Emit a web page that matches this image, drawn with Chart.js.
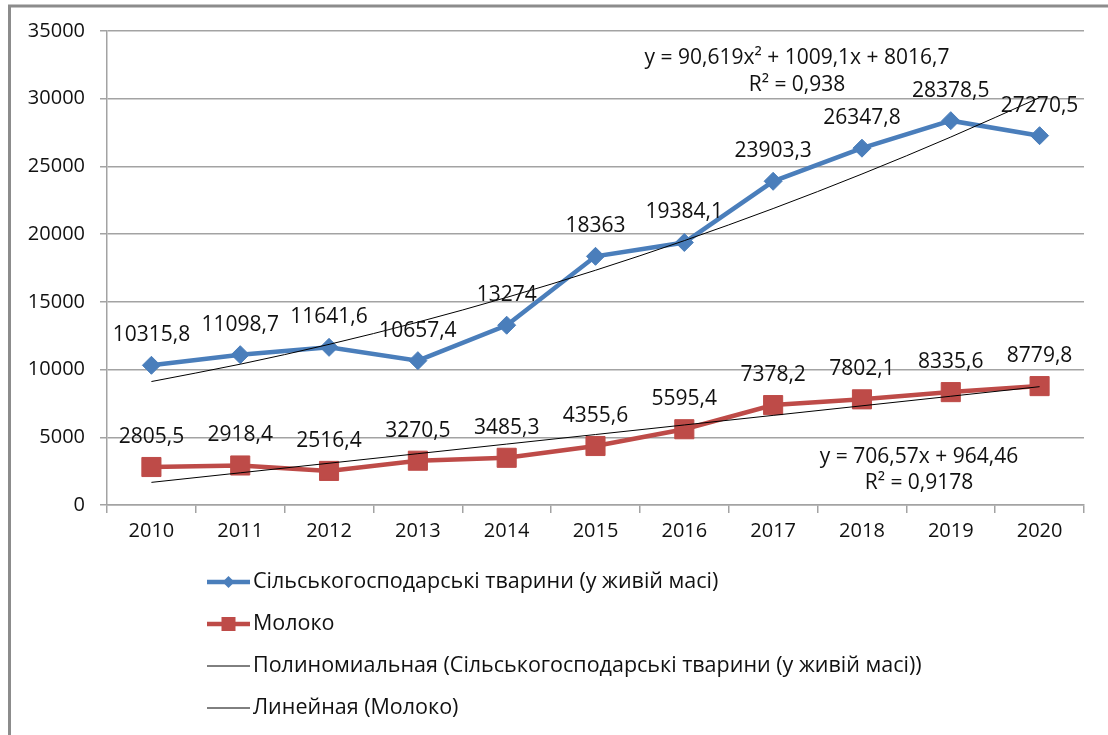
<!DOCTYPE html>
<html>
<head>
<meta charset="utf-8">
<script src="https://cdn.jsdelivr.net/npm/chart.js@4.4.0/dist/chart.umd.min.js"></script>
<style>
  html, body { margin: 0; padding: 0; background: #fff; }
  #wrap { width: 1108px; height: 735px; position: relative; }
</style>
</head>
<body>
<div id="wrap"><canvas id="chart" width="1108" height="735"></canvas></div>
<script>
// Values
const years = ['2010', '2011', '2012', '2013', '2014', '2015', '2016', '2017', '2018', '2019', '2020'];
const livestock = [10315.8, 11098.7, 11641.6, 10657.4, 13274, 18363, 19384.1, 23903.3, 26347.8, 28378.5, 27270.5];
const milk = [2805.5, 2918.4, 2516.4, 3270.5, 3485.3, 4355.6, 5595.4, 7378.2, 7802.1, 8335.6, 8779.8];
// Trend lines as printed on the chart (y = 90,619x² + 1009,1x + 8016,7 and y = 706,57x + 964,46)
const livestockTrend = [9116.4, 10397.4, 11859.6, 13503.0, 15327.7, 17333.6, 19520.7, 21889.1, 24438.7, 27169.6, 30081.7];
const milkTrend = [1671.0, 2377.6, 3084.2, 3790.7, 4497.3, 5203.9, 5910.4, 6617.0, 7323.6, 8030.2, 8736.7];
const yTicks = [0, 5000, 10000, 15000, 20000, 25000, 30000, 35000];

const labels = {
    livestock: 'Сільськогосподарські тварини (у живій масі)',
    milk: 'Молоко',
    poly: 'Полиномиальная (Сільськогосподарські тварини (у живій масі))',
    linear: 'Линейная (Молоко)'
};
const equations = {
    poly: ['y = 90,619x² + 1009,1x + 8016,7', 'R² = 0,938'],
    linear: ['y = 706,57x + 964,46', 'R² = 0,9178']
};

const COLORS = {
    blue: '#4a7ebb',
    red: '#be4b48',
    grid: '#a3a3a3',
    frame: '#8c8c8c',
    text: '#111'
};
const FONT = '"Open Sans", sans-serif';

Chart.defaults.font.family = FONT;
Chart.defaults.font.size = 20;
Chart.defaults.color = COLORS.text;

// white background plus the outer frame of the chart object
const frame = {
    id: 'frame',
    beforeDraw(chart) {
        const ctx = chart.ctx;
        ctx.save();
        ctx.fillStyle = '#fff';
        ctx.fillRect(0, 0, chart.width, chart.height);
        ctx.strokeStyle = COLORS.frame;
        ctx.lineWidth = 3;
        ctx.strokeRect(9.5, 6, chart.width + 50, chart.height + 50);
        ctx.restore();
    }
};

// value labels above the points + trend equations
const valueLabels = {
    id: 'valueLabels',
    afterDatasetsDraw(chart) {
        const ctx = chart.ctx;
        const area = chart.chartArea;
        ctx.save();
        ctx.font = '21px ' + FONT;
        ctx.fillStyle = COLORS.text;
        ctx.textAlign = 'center';
        ctx.textBaseline = 'middle';
        [0, 1].forEach(i => {
            const meta = chart.getDatasetMeta(i);
            meta.data.forEach((pt, j) => {
                const v = chart.data.datasets[i].data[j];
                ctx.fillText(String(v).replace('.', ','), pt.x, pt.y - 30);
            });
        });
        // equation boxes
        ctx.fillText(equations.poly[0], area.left + 690, area.top + 27);
        ctx.fillText(equations.poly[1], area.left + 690, area.top + 54);
        ctx.fillText(equations.linear[0], area.left + 812, area.top + 426);
        ctx.fillText(equations.linear[1], area.left + 812, area.top + 452);
        ctx.restore();
    }
};

// vertical legend under the plot, like the original
const sideLegend = {
    id: 'sideLegend',
    afterDraw(chart) {
        const ctx = chart.ctx;
        const x0 = 207, x1 = 250, top = 582, step = 42;
        const mid = (x0 + x1) / 2;
        ctx.save();
        ctx.font = '21.5px ' + FONT;
        ctx.textBaseline = 'middle';
        ctx.textAlign = 'left';
        chart.data.datasets.forEach((ds, i) => {
            const y = top + i * step;
            ctx.strokeStyle = ds.borderColor;
            ctx.lineWidth = ds.borderWidth;
            ctx.beginPath();
            ctx.moveTo(x0, y);
            ctx.lineTo(x1, y);
            ctx.stroke();
            ctx.fillStyle = ds.borderColor;
            if (ds.pointStyle === 'rectRot') {
                ctx.beginPath();
                ctx.moveTo(mid, y - 6);
                ctx.lineTo(mid + 6, y);
                ctx.lineTo(mid, y + 6);
                ctx.lineTo(mid - 6, y);
                ctx.closePath();
                ctx.fill();
            } else if (ds.pointStyle === 'rect' && ds.pointRadius > 0) {
                ctx.fillRect(mid - 7, y - 7, 14, 14);
            }
            ctx.fillStyle = COLORS.text;
            ctx.fillText(ds.label, x1 + 3, y);
        });
        ctx.restore();
    }
};

const ctx = document.getElementById('chart').getContext('2d');
new Chart(ctx, {
    type: 'line',
    data: {
        labels: years,
        datasets: [
            {
                label: labels.livestock,
                data: livestock,
                borderColor: COLORS.blue,
                backgroundColor: COLORS.blue,
                borderWidth: 4.5,
                pointStyle: 'rectRot',
                pointRadius: 9,
                pointBorderWidth: 1,
                tension: 0,
                order: 1
            },
            {
                label: labels.milk,
                data: milk,
                borderColor: COLORS.red,
                backgroundColor: COLORS.red,
                borderWidth: 4.5,
                pointStyle: 'rect',
                pointRadius: 13.5,
                pointBorderWidth: 1,
                tension: 0,
                order: 1
            },
            {
                label: labels.poly,
                data: livestockTrend,
                borderColor: '#000',
                borderWidth: 1,
                pointRadius: 0,
                tension: 0.4,
                cubicInterpolationMode: 'monotone',
                order: 0
            },
            {
                label: labels.linear,
                data: milkTrend,
                borderColor: '#000',
                borderWidth: 1,
                pointRadius: 0,
                tension: 0,
                order: 0
            }
        ]
    },
    options: {
        responsive: false,
        animation: false,
        layout: { padding: { top: 31, right: 24, left: 0, bottom: 0 } },
        plugins: {
            legend: { display: false },
            tooltip: { enabled: false }
        },
        scales: {
            x: {
                offset: true,
                grid: {
                    offset: true,
                    drawOnChartArea: false,
                    drawTicks: true,
                    tickLength: 8,
                    color: COLORS.grid,
                    lineWidth: 1.5
                },
                border: { color: COLORS.grid, width: 1.5 },
                ticks: { padding: 6, color: COLORS.text, maxRotation: 0 },
                afterFit(scale) { scale.height = 230; }
            },
            y: {
                min: 0,
                max: 35000,
                afterBuildTicks(scale) { scale.ticks = yTicks.map(v => ({ value: v })); },
                grid: {
                    color: COLORS.grid,
                    lineWidth: 1.5,
                    tickLength: 7
                },
                border: { color: COLORS.grid, width: 1.5 },
                ticks: {
                    padding: 15,
                    color: COLORS.text,
                    callback: v => String(v)
                },
                afterFit(scale) { scale.width = 107; }
            }
        }
    },
    plugins: [frame, valueLabels, sideLegend]
});
</script>
</body>
</html>
